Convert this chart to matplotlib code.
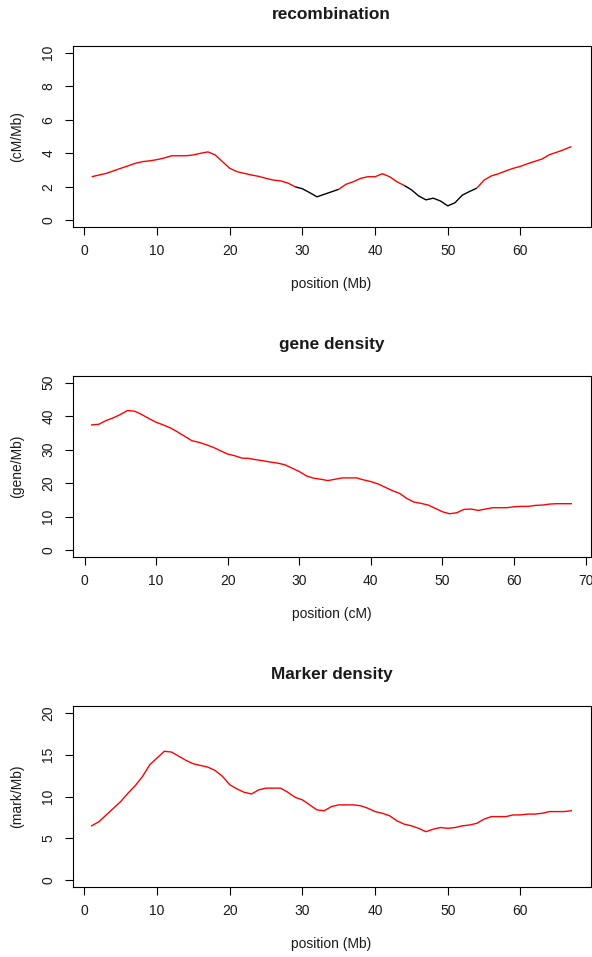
import numpy as np
import matplotlib
matplotlib.use("Agg")
import matplotlib.pyplot as plt

plt.rcParams['font.family'] = ['Liberation Sans', 'DejaVu Sans']

# Recombination rate along the chromosome (cM/Mb), 1 Mb steps
recomb_pos = list(range(1, 68))
recomb_rate = [2.6, 2.7, 2.8, 2.95, 3.1, 3.25, 3.4, 3.5, 3.55, 3.62,
               3.72, 3.85, 3.85, 3.85, 3.9, 4.0, 4.08, 3.9, 3.5, 3.1,
               2.9, 2.8, 2.7, 2.62, 2.5, 2.4, 2.35, 2.22, 2.0, 1.88,
               1.65, 1.4, 1.55, 1.7, 1.85, 2.15, 2.3, 2.5, 2.6, 2.6,
               2.78, 2.6, 2.3, 2.08, 1.82, 1.45, 1.22, 1.32, 1.15, 0.86,
               1.05, 1.5, 1.72, 1.92, 2.4, 2.65, 2.78, 2.95, 3.1, 3.22,
               3.38, 3.52, 3.66, 3.92, 4.06, 4.22, 4.4]
recomb_threshold = 2.0

# Gene density (gene/Mb) against genetic position (cM)
gene_pos = list(range(1, 69))
gene_dens = [37.4, 37.6, 38.7, 39.5, 40.5, 41.7, 41.5, 40.5, 39.3, 38.2,
             37.4, 36.5, 35.3, 34.0, 32.7, 32.2, 31.5, 30.7, 29.7, 28.7,
             28.2, 27.5, 27.4, 27.0, 26.7, 26.3, 26.0, 25.5, 24.5, 23.5,
             22.2, 21.5, 21.2, 20.8, 21.2, 21.6, 21.6, 21.6, 21.0, 20.5,
             19.8, 18.8, 17.8, 17.0, 15.5, 14.4, 14.0, 13.5, 12.5, 11.5,
             10.9, 11.2, 12.2, 12.3, 11.9, 12.3, 12.7, 12.7, 12.7, 13.0,
             13.1, 13.1, 13.4, 13.5, 13.8, 13.9, 13.9, 13.9]

# Marker density (mark/Mb) along the chromosome (Mb)
marker_pos = list(range(1, 68))
marker_dens = [6.5, 7.0, 7.8, 8.6, 9.4, 10.4, 11.3, 12.4, 13.8, 14.6,
               15.4, 15.3, 14.8, 14.3, 13.9, 13.7, 13.5, 13.1, 12.4, 11.4,
               10.9, 10.5, 10.3, 10.8, 11.0, 11.0, 11.0, 10.5, 9.9, 9.6,
               9.0, 8.4, 8.3, 8.8, 9.0, 9.0, 9.0, 8.9, 8.6, 8.2,
               8.0, 7.7, 7.1, 6.7, 6.5, 6.2, 5.8, 6.1, 6.3, 6.2,
               6.3, 6.5, 6.6, 6.8, 7.3, 7.6, 7.6, 7.6, 7.8, 7.8,
               7.9, 7.9, 8.0, 8.2, 8.2, 8.2, 8.3]

panels = [
    dict(title="recombination", xlabel="position (Mb)", ylabel="(cM/Mb)",
         ylim=10, yticks=[0, 2, 4, 6, 8, 10], xticks=[0, 10, 20, 30, 40, 50, 60]),
    dict(title="gene density", xlabel="position (cM)", ylabel="(gene/Mb)",
         ylim=50, yticks=[0, 10, 20, 30, 40, 50], xticks=[0, 10, 20, 30, 40, 50, 60, 70]),
    dict(title="Marker density", xlabel="position (Mb)", ylabel="(mark/Mb)",
         ylim=20, yticks=[0, 5, 10, 15, 20], xticks=[0, 10, 20, 30, 40, 50, 60]),
]

W, H = 592, 957
fig = plt.figure(figsize=(W / 100, H / 100), dpi=100)

box_left, box_right = 72.5, 590.5
box_tops = [46, 376, 706]
box_h = 181

axes = []
for top in box_tops:
    ax = fig.add_axes([box_left / W, 1 - (top + box_h) / H,
                       (box_right - box_left) / W, box_h / H])
    axes.append(ax)


def r_style_limits(lo, hi):
    ext = 0.04 * (hi - lo)
    return lo - ext, hi + ext


text_col = "#1a1a1a"
fs_tick = 10
fs_label = 10
fs_title = 12.4

# Recombination: red where the rate is at least the threshold, black below it
ax = axes[0]
x = np.asarray(recomb_pos, dtype=float)
y = np.asarray(recomb_rate, dtype=float)
seg_low = (y[:-1] + y[1:]) / 2 < recomb_threshold
start = 0
for i in range(1, len(seg_low) + 1):
    if i == len(seg_low) or seg_low[i] != seg_low[start]:
        col = "black" if seg_low[start] else "red"
        ax.plot(x[start:i + 1], y[start:i + 1], color=col, lw=1.0,
                solid_joinstyle="round", solid_capstyle="butt")
        start = i
ax.set_xlim(*r_style_limits(min(recomb_pos), max(recomb_pos)))

axes[1].plot(gene_pos, gene_dens, color="red", lw=1.0)
axes[1].set_xlim(*r_style_limits(min(gene_pos), max(gene_pos)))

axes[2].plot(marker_pos, marker_dens, color="red", lw=1.0)
axes[2].set_xlim(*r_style_limits(min(marker_pos), max(marker_pos)))

for ax, p in zip(axes, panels):
    ax.set_ylim(*r_style_limits(0, p["ylim"]))
    ax.set_xticks(p["xticks"])
    ax.set_yticks(p["yticks"])
    ax.set_xticklabels([str(t) for t in p["xticks"]])
    ax.set_yticklabels([str(t) for t in p["yticks"]], rotation=90, va="center")
    ax.tick_params(axis="both", direction="out", length=5.8, width=0.8,
                   colors="black", labelcolor=text_col, labelsize=fs_tick, pad=6.5)
    for s in ax.spines.values():
        s.set_linewidth(0.8)
        s.set_color("black")
    ax.set_xlabel(p["xlabel"], fontsize=fs_label, color=text_col)
    ax.xaxis.label.set_va("center")
    ax.xaxis.set_label_coords(0.5, -(284 - 227) / box_h)
    ax.set_ylabel(p["ylabel"], fontsize=fs_label, color=text_col)
    ax.yaxis.label.set_va("center")
    ax.yaxis.set_label_coords((17 - box_left) / (box_right - box_left), 0.5)
    ax.text(0.5, 1 + 31 / box_h, p["title"], transform=ax.transAxes,
            ha="center", va="center", fontsize=fs_title, fontweight="bold",
            color=text_col)

fig.savefig("out.png", dpi=100, facecolor="white")
